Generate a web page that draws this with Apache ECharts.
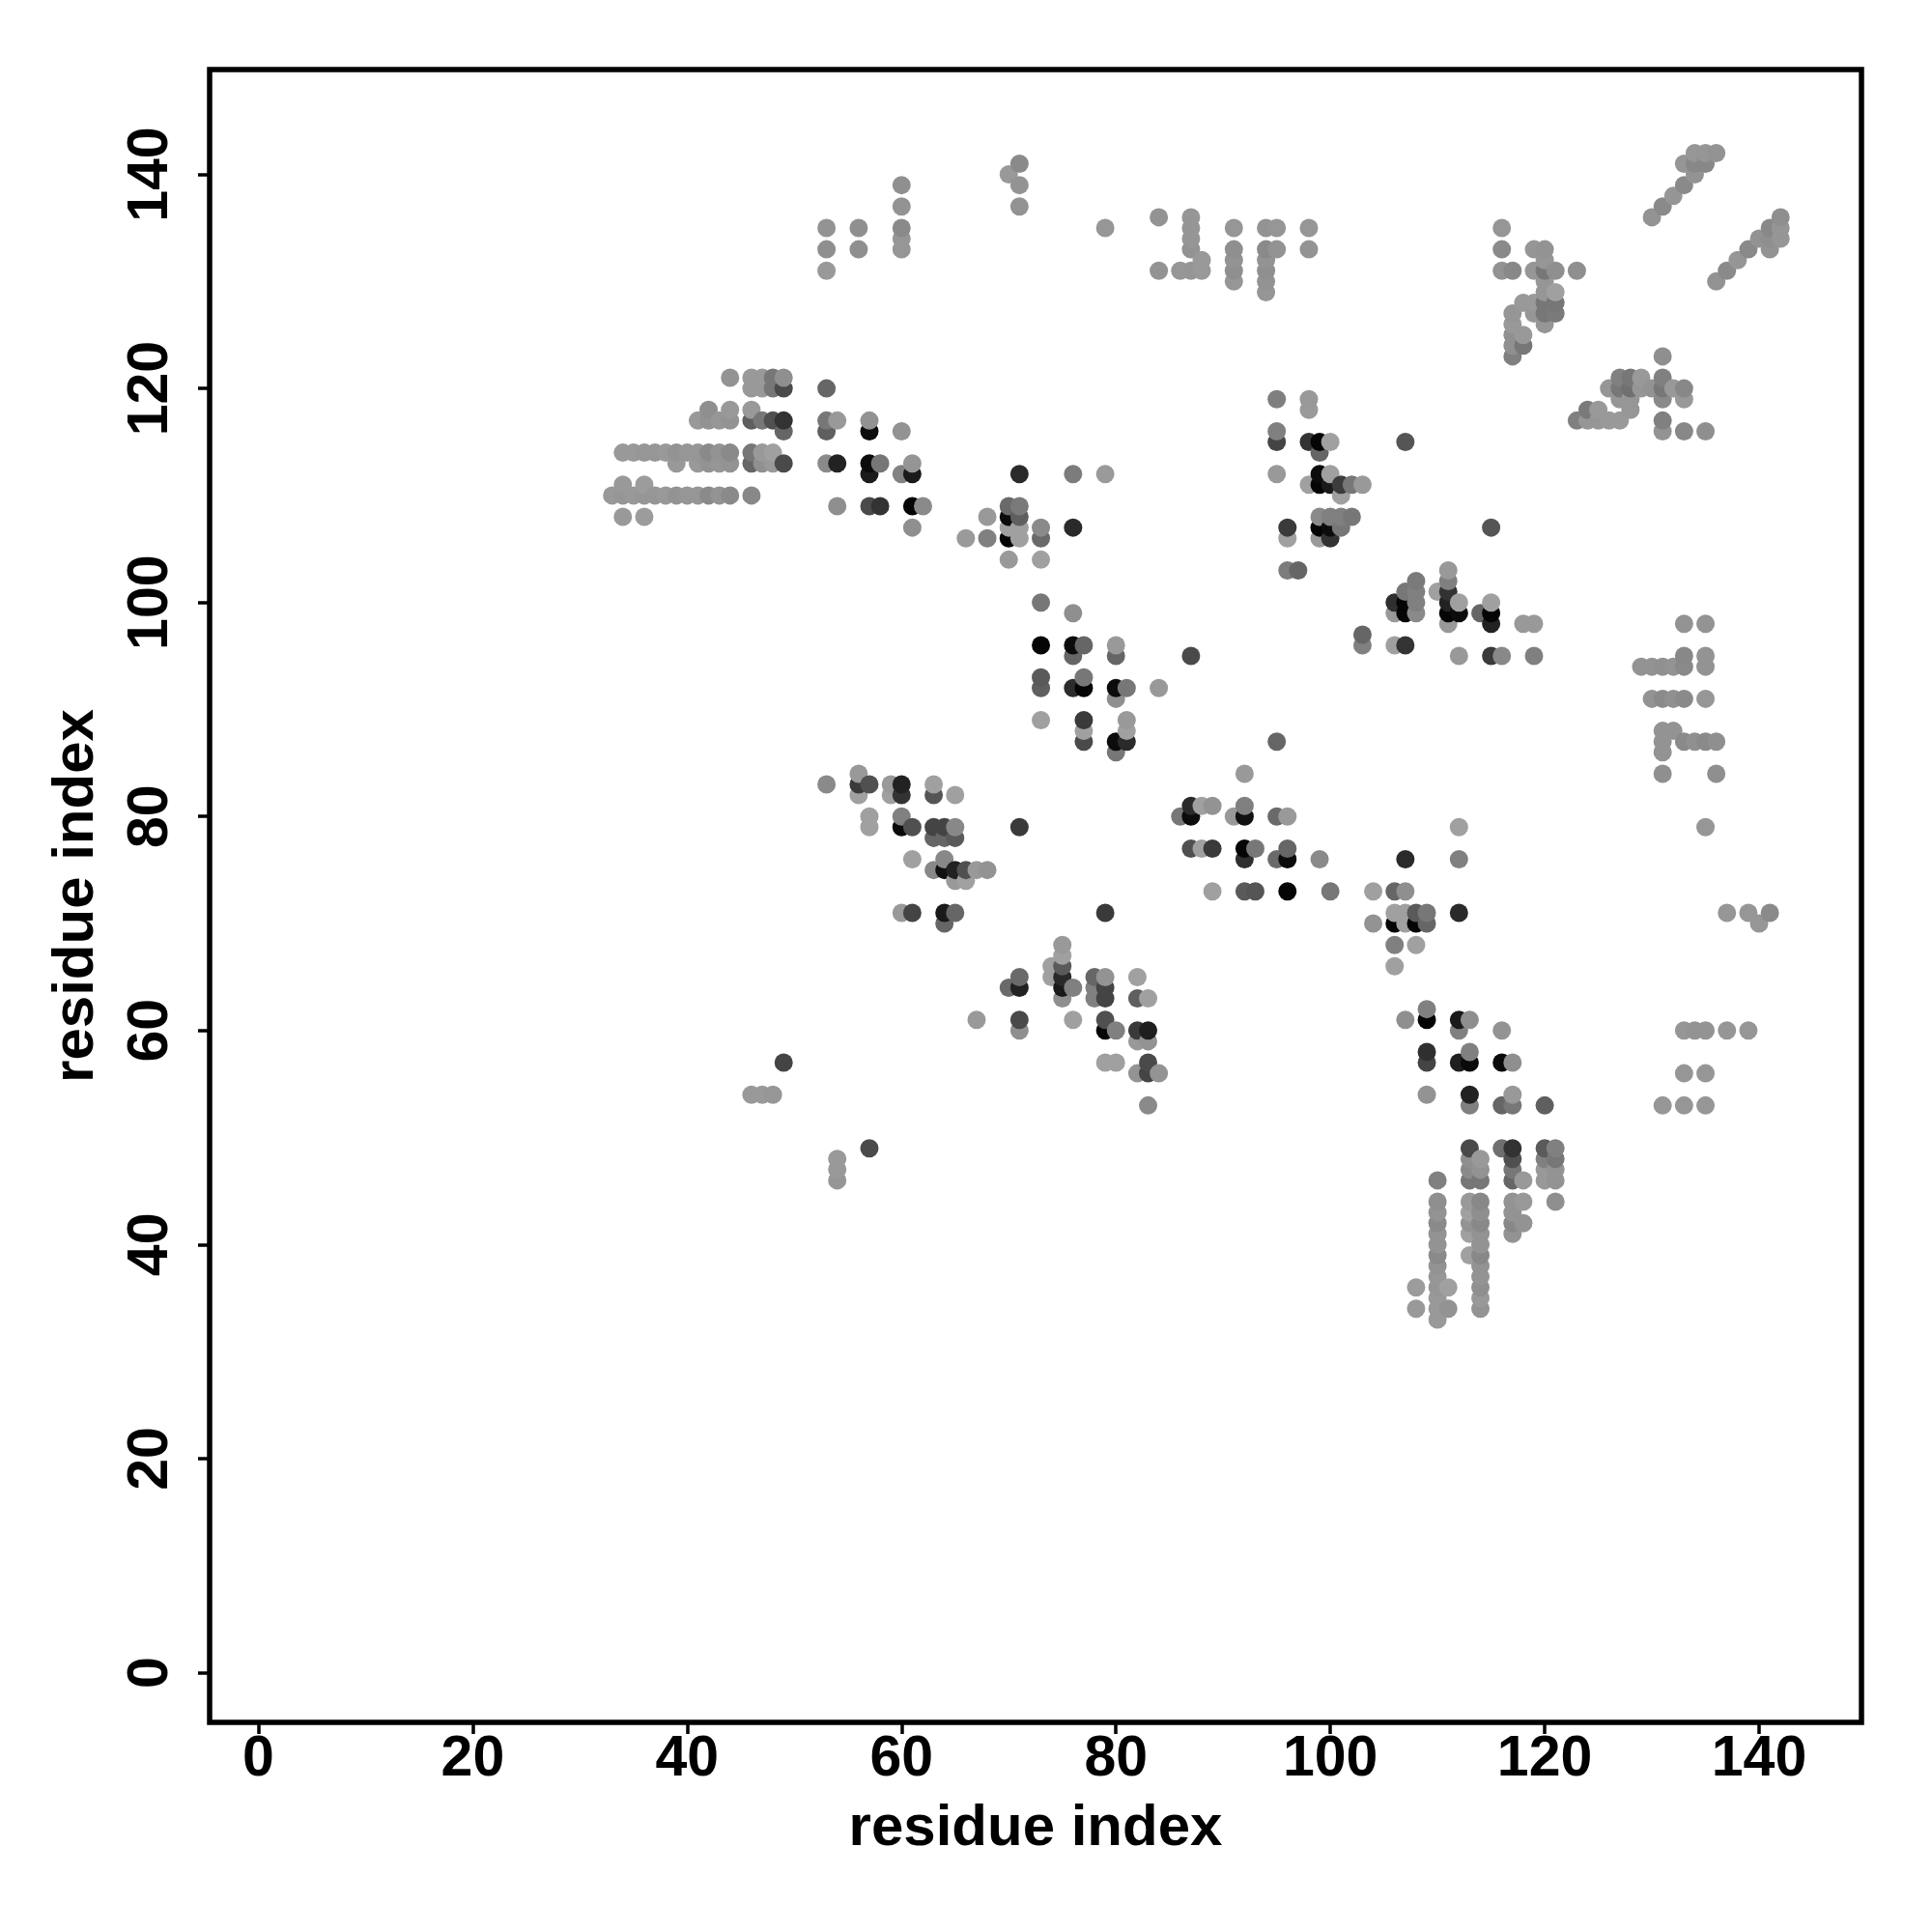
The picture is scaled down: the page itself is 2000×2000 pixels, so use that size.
<!DOCTYPE html>
<html>
<head>
<meta charset="utf-8">
<script src="https://cdn.jsdelivr.net/npm/echarts@6/dist/echarts.min.js"></script>
<style>html,body{margin:0;padding:0;background:#fff}#c{width:2000px;height:2000px}</style>
</head>
<body>
<div id="c"></div>
<script>
const axisTitle = 'residue index';
const tickValues = [0, 20, 40, 60, 80, 100, 120, 140];

// [residue x, residue y, grey level]
const bandLeft = [
 [33,110,0x99],[34,114,0x99],[34,111,0x99],[34,110,0x96],[34,108,0x99],[35,114,0x99],[35,110,0x99],[36,114,0x96],[36,111,0x9c],[36,110,0x96],[36,108,0x9c],
 [37,114,0x96],[37,110,0x96],[38,114,0x99],[38,110,0x99],[39,114,0x93],[39,113,0x99],[39,110,0x93],[40,114,0x96],[40,110,0x96],
 [41,117,0x99],[41,114,0x96],[41,113,0x99],[41,110,0x96],[42,118,0x8f],[42,117,0x93],[42,114,0x8a],[42,113,0x93],[42,110,0x8a],
 [43,117,0x96],[43,114,0x93],[43,113,0x96],[43,110,0x93],[44,121,0x93],[44,118,0x99],[44,117,0x93],[44,114,0x8a],[44,113,0x93],[44,110,0x8a],
 [46,121,0x99],[46,120,0x99],[46,118,0x99],[46,117,0x5f],[46,114,0x77],[46,113,0x66],[46,110,0x88],
 [47,121,0x99],[47,120,0x99],[47,117,0x77],[47,114,0x99],[47,113,0x90],[48,121,0x77],[48,120,0x77],[48,117,0x50],[48,114,0xa0],[48,113,0x99],
 [49,121,0x8f],[49,120,0x4a],[49,117,0x33],[49,116,0x66],[49,113,0x4a]
];
const bandMid = [
 [53,120,0x66],[53,117,0x77],[53,116,0x5f],[53,113,0x8a],[54,117,0x99],[54,113,0x22],[54,109,0x8f],
 [57,117,0x92],[57,116,0x0c],[57,113,0x0c],[57,112,0x1c],[57,109,0x4a],[58,113,0x77],[58,109,0x33],
 [60,116,0x93],[60,112,0x82],[61,113,0x95],[61,112,0x1a],[61,109,0x05],[61,107,0x8f],[62,109,0x8a],
 [66,106,0x9a],[68,108,0x99],[68,106,0x80],[70,109,0x6a],[70,108,0x0c],[70,107,0x9f],[70,106,0x05],[70,104,0x99],
 [71,112,0x2a],[71,109,0x7a],[71,108,0x5f],[71,107,0xa0],[71,106,0xa0],[73,107,0x8a],[73,106,0x6a],[73,104,0xa0],
 [76,112,0x7c],[76,107,0x2a],[79,112,0x9a]
];
const clusterCentre = [
 [73,100,0x77],[73,96,0x05],[73,93,0x5a],[73,92,0x5f],[73,89,0xa0],[76,99,0x8f],[76,96,0x0c],[76,95,0x66],[76,92,0x2c],
 [77,96,0x66],[77,93,0x77],[77,92,0x05],[77,89,0x3a],[77,88,0xa0],[77,87,0x4a],[80,96,0x99],[80,95,0x66],[80,92,0x0c],[80,91,0x8f],[80,87,0x0c],[80,86,0x77],
 [81,92,0x77],[81,89,0x99],[81,88,0xa0],[81,87,0x2a],[84,92,0x99],[87,95,0x4a],[95,87,0x66]
];
const clusterUpperRight = [
 [95,119,0x7f],[95,116,0x80],[95,115,0x44],[95,112,0x99],[96,107,0x3a],[96,106,0xa0],[96,103,0x7c],[97,103,0x66],
 [98,119,0x99],[98,118,0x9a],[98,115,0x33],[98,111,0xa0],[99,115,0x05],[99,114,0x66],[99,112,0x0c],[99,111,0x05],[99,108,0x8a],[99,107,0x05],[99,106,0x99],
 [100,115,0xa0],[100,112,0xa0],[100,111,0x1a],[100,108,0x80],[100,107,0x0c],[100,106,0x33],[101,111,0x3c],[101,110,0xa0],[101,108,0x80],[101,107,0x77],
 [102,111,0x77],[102,108,0x77],[103,111,0x99],[103,97,0x66],[103,96,0x80],[106,100,0x2f],[106,99,0x99],[106,96,0xa0],
 [107,115,0x55],[107,101,0x77],[107,100,0x05],[107,99,0x05],[107,96,0x33],[108,102,0x7a],[108,101,0x80],[108,100,0x80],[108,99,0x8a],
 [110,101,0xa0],[111,103,0x99],[111,102,0x80],[111,101,0x33],[111,100,0x22],[111,99,0x05],[111,98,0x99],[112,100,0xa0],[112,99,0x0c],[112,95,0x99],
 [114,99,0x66],[115,107,0x55],[115,100,0xa0],[115,99,0x05],[115,98,0x22],[115,95,0x3a],[116,95,0x88],[118,98,0x99],[119,98,0x99],[119,95,0x80]
];
const clusterTop = [
 [53,135,0x93],[53,133,0x8f],[53,131,0x99],[56,135,0x8f],[56,133,0x8f],[60,139,0x8f],[60,137,0x93],[60,135,0x8a],[60,134,0x96],[60,133,0x96],
 [70,140,0x99],[71,141,0x8a],[71,139,0x93],[71,137,0x93],[79,135,0x96],[84,136,0x93],[84,131,0x93],[86,131,0x96],
 [87,136,0x96],[87,135,0x96],[87,134,0x96],[87,133,0x93],[87,131,0x96],[88,132,0x99],[88,131,0x99],
 [91,135,0x96],[91,133,0x8f],[91,132,0x93],[91,131,0x8f],[91,130,0x96],[94,135,0x93],[94,133,0x8a],[94,132,0x93],[94,131,0x8f],[94,130,0x93],[94,129,0x96],
 [95,135,0x96],[95,133,0x93],[98,135,0x96],[98,133,0x93]
];
const clusterHigh = [
 [116,135,0x96],[116,133,0x8a],[116,131,0x93],[117,131,0x88],[117,127,0x96],[117,126,0x99],[117,125,0x90],[117,124,0x90],[117,123,0x80],
 [118,128,0x99],[118,125,0x99],[118,124,0x77],[119,133,0x96],[119,131,0x96],[119,128,0x99],[119,127,0x96],
 [120,133,0x93],[120,132,0x96],[120,131,0x77],[120,130,0x96],[120,129,0x96],[120,128,0x77],[120,127,0x77],[120,126,0x96],
 [121,131,0x8f],[121,129,0xa0],[121,128,0x77],[121,127,0x7a],[123,131,0x8f],
 [130,136,0x93],[131,137,0x8a],[132,138,0x96],[133,141,0x96],[133,139,0x8a],[134,142,0x96],[134,141,0x88],[134,140,0x93],[135,142,0x96],[135,141,0x88],[136,142,0x93],
 [136,130,0x93],[137,131,0x8a],[138,132,0x96],[139,133,0x8a],[140,134,0x93],[141,135,0x88],[141,134,0x8f],[141,133,0x93],[142,136,0x8f],[142,135,0x96],[142,134,0x96]
];
const clusterArc = [
 [123,117,0x80],[124,118,0x7a],[124,117,0x96],[125,118,0x99],[125,117,0x96],[126,120,0x96],[126,117,0x99],[127,121,0x80],[127,120,0x77],[127,119,0x96],[127,117,0x99],
 [128,121,0x77],[128,120,0x70],[128,119,0x96],[128,118,0x96],[129,121,0x99],[129,120,0x96],[130,120,0x93],
 [131,123,0x8f],[131,121,0x80],[131,120,0x77],[131,119,0x8a],[131,117,0x80],[131,116,0x93],[132,120,0x99],[133,120,0x88],[133,119,0x99],[133,116,0x88],[135,116,0x8f]
];
const clusterRight = [
 [129,94,0x93],[130,94,0x93],[130,91,0x93],[131,94,0x90],[131,91,0x8a],[131,88,0x93],[131,87,0x93],[131,86,0x93],[131,84,0x8f],
 [132,94,0x93],[132,91,0x90],[132,88,0x93],[133,98,0x93],[133,95,0x88],[133,94,0x8a],[133,91,0x8a],[133,87,0x8a],[134,87,0x90],
 [135,98,0x93],[135,95,0x93],[135,94,0x93],[135,91,0x96],[135,87,0x8a],[135,79,0x96],[136,87,0x8f],[136,84,0x8f],
 [137,71,0x96],[139,71,0x96],[140,70,0x96],[141,71,0x8a]
];
const clusterLowA = [
 [53,83,0x8a],[56,84,0x99],[56,83,0x3a],[56,82,0xa0],[57,83,0x50],[57,80,0xa0],[57,79,0xa0],[59,83,0x99],[59,82,0xa0],
 [60,83,0x22],[60,82,0x33],[60,80,0x80],[60,79,0x0a],[60,71,0x99],[61,79,0x50],[61,76,0xa0],[61,71,0x44],
 [63,83,0xa0],[63,82,0x55],[63,79,0x44],[63,78,0x66],[63,75,0x88],[64,79,0x44],[64,78,0x66],[64,76,0x88],[64,75,0x11],[64,71,0x1a],[64,70,0x66],
 [65,82,0xa0],[65,79,0x88],[65,78,0x5a],[65,75,0x22],[65,74,0x99],[65,71,0x66],[66,75,0x50],[66,74,0xa0],[67,75,0x99],[68,75,0x93],[71,79,0x3a]
];
const clusterLowB = [
 [86,80,0x77],[87,81,0x2a],[87,80,0x0c],[87,77,0x50],[88,81,0xa0],[88,77,0xa0],[89,81,0x93],[89,77,0x3a],[89,73,0xa0],
 [91,80,0x99],[92,84,0x99],[92,81,0x80],[92,80,0x11],[92,77,0x05],[92,76,0x2f],[92,73,0x5a],[93,77,0x77],[93,73,0x55],
 [95,80,0x6a],[95,76,0x6a],[96,80,0x99],[96,77,0x66],[96,76,0x0c],[96,73,0x05],[99,76,0x8a],[100,73,0x77],
 [104,73,0xa0],[104,70,0x93],[106,73,0x66],[106,71,0xa0],[106,70,0x05],[106,68,0x80],[106,66,0xa0],
 [107,76,0x2a],[107,73,0x8f],[107,71,0xa0],[107,70,0xa0],[108,71,0x5a],[108,70,0x05],[108,68,0xa0],[109,71,0x77],[109,70,0x66],
 [112,79,0xa0],[112,76,0x80],[112,71,0x2a]
];
const clusterBottomLeft = [
 [46,54,0x99],[47,54,0x99],[48,54,0x96],[49,57,0x44],[54,48,0x99],[54,47,0x99],[54,46,0x96],[57,49,0x4a],
 [67,61,0x99],[70,64,0x6a],[71,65,0x6a],[71,64,0x22],[71,61,0x4a],[71,60,0x8f],[79,71,0x3a],
 [74,66,0xa0],[74,65,0xa0],[75,68,0x99],[75,67,0xa0],[75,66,0x5a],[75,65,0x2a],[75,64,0x1a],[75,63,0x8f],[76,64,0x80],[76,61,0xa0],
 [78,65,0x66],[78,64,0x80],[78,63,0x80],[79,65,0x93],[79,64,0x44],[79,63,0x44],[79,61,0x50],[79,60,0x05],[79,57,0xa0],[80,60,0x80],[80,57,0xa0],
 [82,65,0xa0],[82,63,0x5f],[82,60,0x3a],[82,59,0x99],[82,56,0x93],[83,63,0xa0],[83,60,0x1f],[83,59,0x93],[83,57,0x4a],[83,56,0x44],[83,53,0x8a],[84,56,0x93]
];
const clusterBottomRight = [
 [107,61,0x8f],[109,62,0x80],[109,61,0x05],[109,58,0x2f],[109,57,0x44],[109,54,0x93],[112,61,0x1a],[112,60,0x80],[112,57,0x1f],
 [113,61,0x8f],[113,58,0x80],[113,57,0x0a],[113,54,0x22],[113,53,0x80],[116,60,0x93],[116,57,0x0a],[116,53,0x66],[117,57,0x8f],[117,54,0x99],[117,53,0x77],[120,53,0x5f],
 [131,53,0x96],[133,60,0x96],[133,56,0x96],[133,53,0x96],[134,60,0x93],[135,60,0x93],[135,56,0x96],[135,53,0x96],[137,60,0x96],[139,60,0x96]
];
const clusterLowest = [
 [108,36,0x9c],[108,34,0x99],[110,46,0x80],[110,44,0x8f],[110,43,0x93],[110,42,0x8a],[110,41,0x93],[110,40,0x93],[110,39,0x8a],[110,38,0x93],[110,37,0x96],[110,36,0x96],[110,35,0x99],[110,34,0x99],[110,33,0x99],
 [111,36,0xa0],[111,34,0x93],[113,49,0x4a],[113,48,0x8f],[113,47,0x8a],[113,46,0x77],[113,44,0x99],[113,43,0xa0],[113,42,0x93],[113,41,0xa0],[113,39,0xa0],
 [114,48,0x99],[114,47,0x93],[114,46,0x77],[114,44,0x88],[114,43,0x8f],[114,42,0x88],[114,41,0x93],[114,40,0x93],[114,39,0x88],[114,38,0x93],[114,37,0x93],[114,36,0x8f],[114,35,0x99],[114,34,0x93],
 [116,49,0x6f],[117,49,0x33],[117,48,0x50],[117,47,0x77],[117,46,0x66],[117,44,0x93],[117,43,0x93],[117,42,0x88],[117,41,0x93],[118,46,0x99],[118,44,0x99],[118,42,0x93],
 [120,49,0x5a],[120,48,0x80],[120,47,0x99],[120,46,0x99],[121,49,0x80],[121,48,0x77],[121,47,0x93],[121,46,0x93],[121,44,0x8f]
];

// Points are painted by ascending x then y, so later ones cover earlier ones.
const contacts = [].concat(bandLeft, bandMid, clusterCentre, clusterUpperRight, clusterTop, clusterHigh, clusterArc,
  clusterRight, clusterLowA, clusterLowB, clusterBottomLeft, clusterBottomRight, clusterLowest)
  .sort((a, b) => a[0] - b[0] || a[1] - b[1]);

const FONT = '"Liberation Sans", Arial, sans-serif';
const chart = echarts.init(document.getElementById('c'), null, { renderer: 'canvas' });
const axisCommon = {
  type: 'value',
  name: axisTitle,
  nameLocation: 'middle',
  nameMoveOverlap: false,
  nameTextStyle: { fontFamily: FONT, fontWeight: 'bold', fontSize: 60, color: '#000' },
  splitLine: { show: false },
  axisLine: { show: false, onZero: false },
  axisTick: { show: true, length: 12, lineStyle: { color: '#000', width: 3.5 }, customValues: tickValues },
  axisLabel: { fontFamily: FONT, fontWeight: 'bold', fontSize: 59, color: '#000', customValues: tickValues }
};
chart.setOption({
  animation: false,
  backgroundColor: '#fff',
  grid: { left: 217, right: 73, top: 72, bottom: 217, show: true, borderColor: '#000', borderWidth: 5.5, backgroundColor: 'transparent' },
  xAxis: Object.assign({}, axisCommon, { min: -4.55, max: 149.55, nameGap: 80,
    axisLabel: Object.assign({}, axisCommon.axisLabel, { margin: 9 }) }),
  yAxis: Object.assign({}, axisCommon, { min: -4.65, max: 149.8, nameGap: 108,
    axisLabel: Object.assign({}, axisCommon.axisLabel, { rotate: 90, margin: 31, align: 'center', verticalAlign: 'bottom' }) }),
  series: [{
    type: 'scatter',
    symbol: 'circle',
    symbolSize: 19,
    data: contacts,
    large: false,
    itemStyle: {
      opacity: 1,
      color: p => { const g = p.value[2]; return 'rgb(' + g + ',' + g + ',' + g + ')'; }
    },
    emphasis: { disabled: true },
    silent: true
  }]
});
</script>
</body>
</html>
